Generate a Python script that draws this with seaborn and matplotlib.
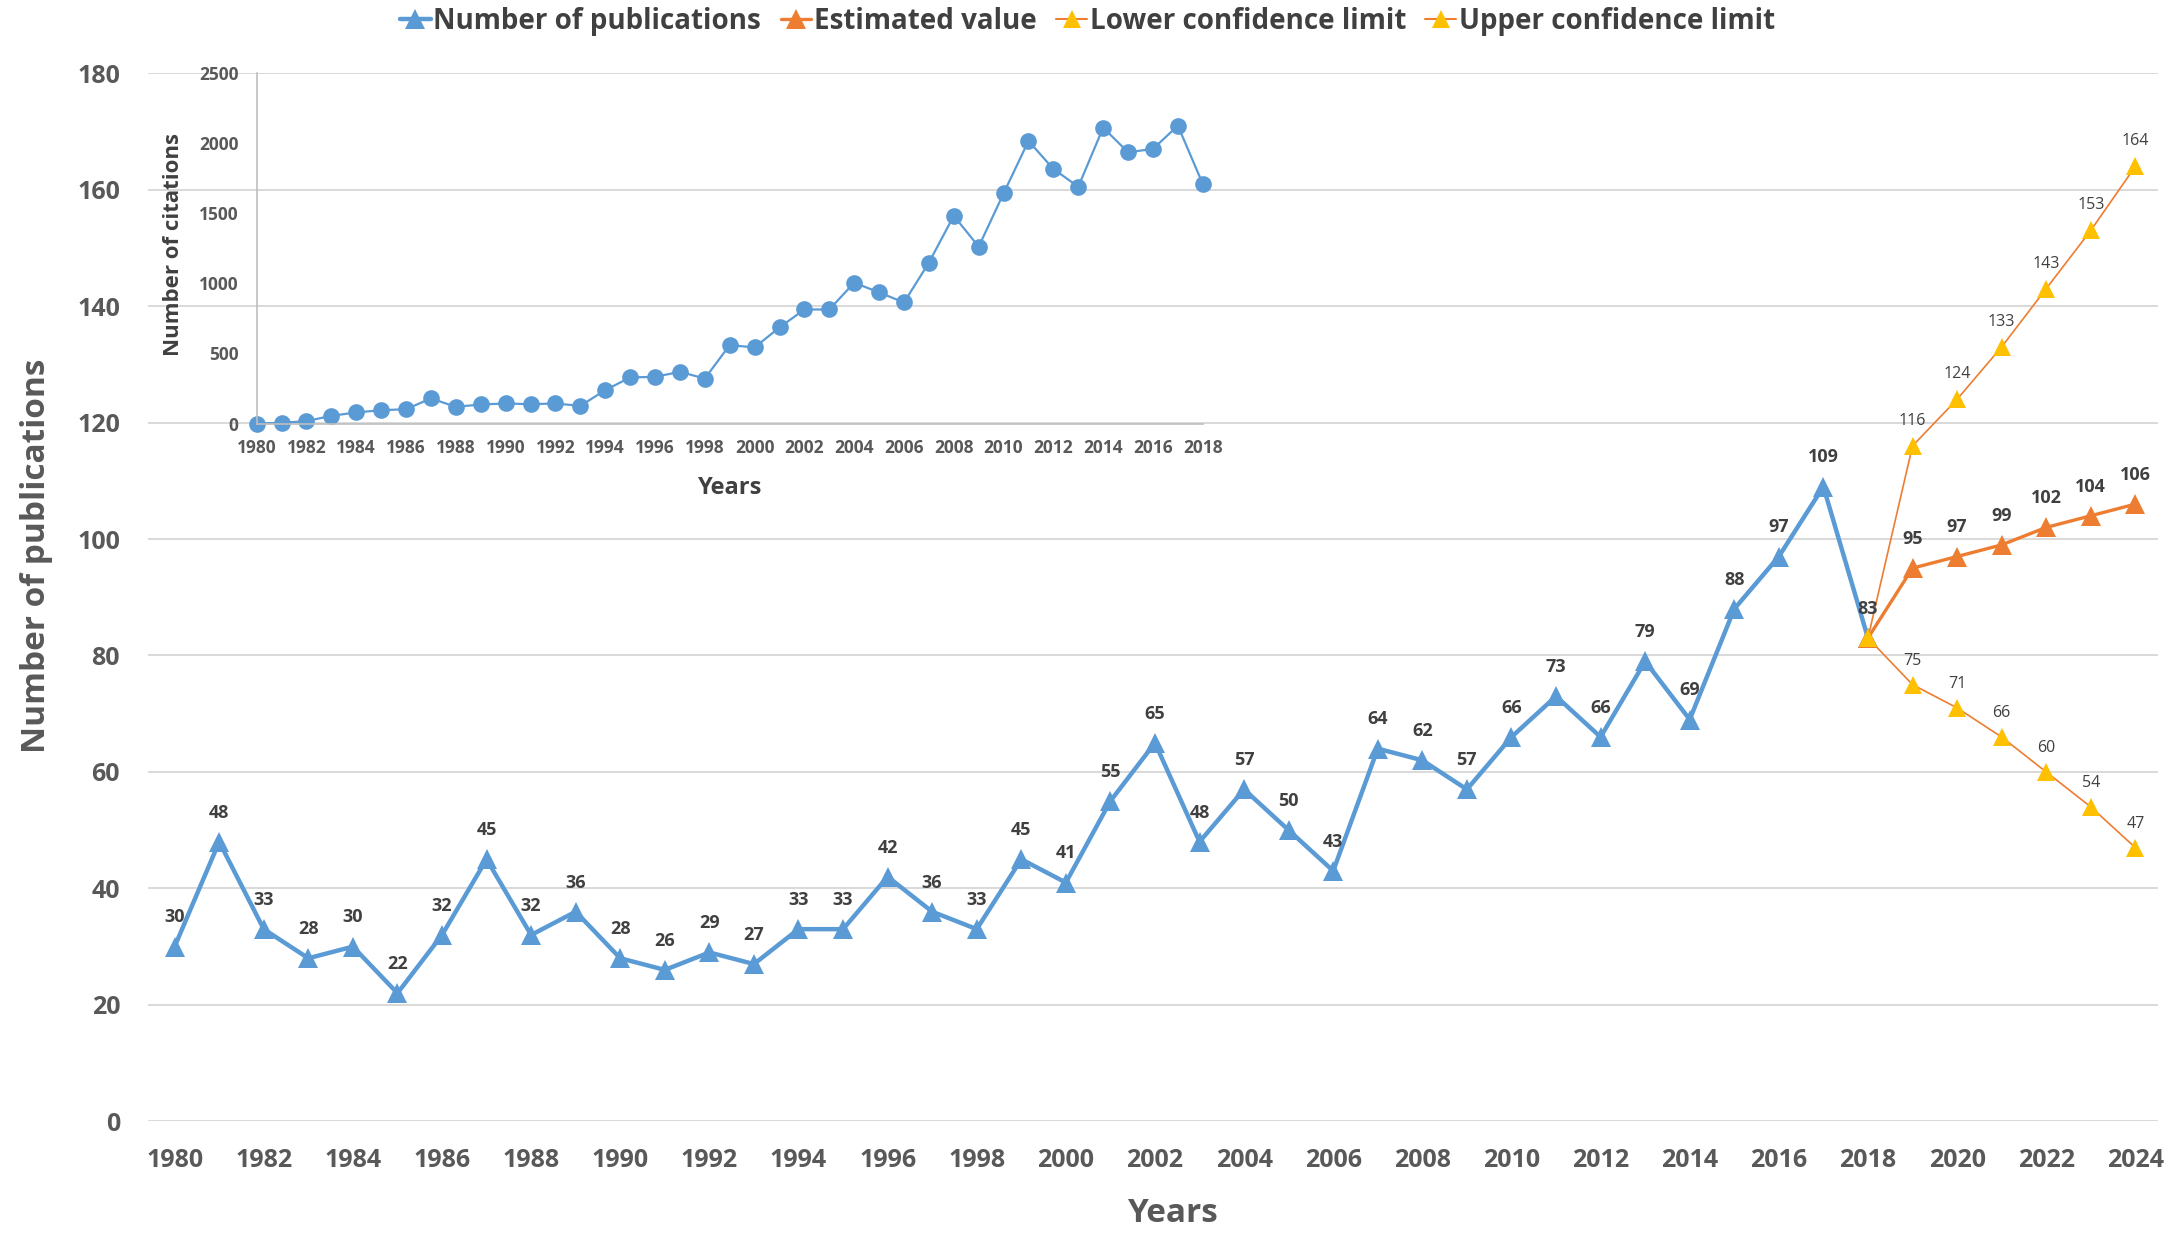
import matplotlib
matplotlib.use("Agg")
import matplotlib.pyplot as plt
from matplotlib.lines import Line2D
import seaborn as sns

# data
years = list(range(1980, 2019))
publications = [30, 48, 33, 28, 30, 22, 32, 45, 32, 36,
                28, 26, 29, 27, 33, 33, 42, 36, 33, 45,
                41, 55, 65, 48, 57, 50, 43, 64, 62, 57,
                66, 73, 66, 79, 69, 88, 97, 109, 83]
citations = [0, 5, 17, 55, 79, 95, 102, 179, 119, 136,
             143, 138, 143, 126, 238, 329, 333, 369, 321, 560,
             543, 686, 814, 814, 1005, 936, 864, 1148, 1483, 1262,
             1643, 2017, 1817, 1690, 2112, 1936, 1960, 2126, 1710]
forecast_years = list(range(2018, 2025))
estimated = [83, 95, 97, 99, 102, 104, 106]
lower_ci = [83, 75, 71, 66, 60, 54, 47]
upper_ci = [83, 116, 124, 133, 143, 153, 164]
legend_labels = ["Number of publications", "Estimated value",
                 "Lower confidence limit", "Upper confidence limit"]

BLUE = "#5B9BD5"
ORANGE = "#ED7D31"
YELLOW = "#FFC000"
TICK = "#595959"
LABEL = "#404040"
GRID = "#D9D9D9"

sns.set_theme(style="white")
plt.rcParams["font.family"] = ["Open Sans", "DejaVu Sans"]

fig = plt.figure(figsize=(21.75, 12.42), dpi=100)

# ---- main chart ----
ax = fig.add_axes([0.068, 0.0972, 0.924, 0.8438])
ax.set_axisbelow(True)
ax.grid(axis="y", color=GRID, lw=1.4)
for s in ax.spines.values():
    s.set_visible(False)

sns.lineplot(x=years, y=publications, ax=ax, color=BLUE, lw=3.2,
             marker="^", markersize=14, markeredgecolor=BLUE, markeredgewidth=0)
sns.lineplot(x=forecast_years, y=estimated, ax=ax, color=ORANGE, lw=2.4,
             marker="^", markersize=14, markeredgecolor=ORANGE, markeredgewidth=0)
for ci in (lower_ci, upper_ci):
    sns.lineplot(x=forecast_years, y=ci, ax=ax, color=ORANGE, lw=1.2,
                 marker="^", markersize=12.5, markerfacecolor=YELLOW,
                 markeredgecolor=YELLOW, markeredgewidth=0)

for x, y in zip(years, publications):
    ax.annotate(str(y), (x, y), xytext=(0, 21), textcoords="offset points",
                ha="center", va="center", fontsize=13, fontweight="bold", color=LABEL)
for x, y in zip(forecast_years[1:], estimated[1:]):
    ax.annotate(str(y), (x, y), xytext=(0, 21), textcoords="offset points",
                ha="center", va="center", fontsize=13, fontweight="bold", color=LABEL)
for x, y in zip(forecast_years[1:], upper_ci[1:]):
    ax.annotate(str(y), (x, y), xytext=(0, 18), textcoords="offset points",
                ha="center", va="center", fontsize=11.5, color=LABEL)
for x, y in zip(forecast_years[1:], lower_ci[1:]):
    ax.annotate(str(y), (x, y), xytext=(0, 17), textcoords="offset points",
                ha="center", va="center", fontsize=11.5, color=LABEL)

ax.set_xlim(1979.4, 2024.5)
ax.set_ylim(0, 180)
ax.set_xticks(range(1980, 2025, 2))
ax.set_yticks(range(0, 181, 20))
ax.tick_params(length=0, labelsize=18, labelcolor=TICK)
ax.tick_params(axis="x", pad=19)
ax.tick_params(axis="y", pad=20)
for lab in ax.get_xticklabels() + ax.get_yticklabels():
    lab.set_fontweight("bold")
ax.set_xlabel("Years", fontsize=24, fontweight="bold", color=TICK)
ax.set_ylabel("Number of publications", fontsize=24, fontweight="bold", color=TICK)
ax.xaxis.set_label_coords(0.51, -0.072)
ax.yaxis.set_label_coords(-0.047, 0.54)

# ---- inset: citations ----
axin = fig.add_axes([0.118, 0.659, 0.435, 0.282])
axin.patch.set_alpha(0)
sns.lineplot(x=years, y=citations, ax=axin, color=BLUE, lw=1.6,
             marker="o", markersize=12, markeredgecolor=BLUE,
             markeredgewidth=0, clip_on=False)
axin.set_xlim(1980, 2018)
axin.set_ylim(0, 2500)
axin.set_xticks(range(1980, 2019, 2))
axin.set_yticks(range(0, 2501, 500))
for side in ("top", "right"):
    axin.spines[side].set_visible(False)
for side in ("left", "bottom"):
    axin.spines[side].set_color("#BFBFBF")
    axin.spines[side].set_linewidth(1.2)
axin.tick_params(length=0, labelsize=12.5, labelcolor=TICK)
axin.tick_params(axis="x", pad=11)
axin.tick_params(axis="y", pad=13)
for lab in axin.get_xticklabels() + axin.get_yticklabels():
    lab.set_fontweight("bold")
axin.set_xlabel("Years", fontsize=17, fontweight="bold", color=LABEL)
axin.set_ylabel("Number of citations", fontsize=16, fontweight="bold", color=LABEL)
axin.xaxis.set_label_coords(0.5, -0.15)
axin.yaxis.set_label_coords(-0.077, 0.51)

# ---- legend ----
handles = [
    Line2D([], [], color=BLUE, lw=3.2, marker="^", markersize=14, markeredgewidth=0),
    Line2D([], [], color=ORANGE, lw=2.4, marker="^", markersize=14, markeredgewidth=0),
    Line2D([], [], color=ORANGE, lw=1.5, marker="^", markersize=12.5,
           markerfacecolor=YELLOW, markeredgewidth=0),
    Line2D([], [], color=ORANGE, lw=1.5, marker="^", markersize=12.5,
           markerfacecolor=YELLOW, markeredgewidth=0),
]
fig.legend(handles, legend_labels, loc="center", bbox_to_anchor=(0.5, 0.983),
           ncol=4, frameon=False, handlelength=1.1, handletextpad=0.1,
           columnspacing=0.7, prop={"size": 20, "weight": "bold"}, labelcolor=LABEL)

fig.savefig("out.png", dpi=100)
